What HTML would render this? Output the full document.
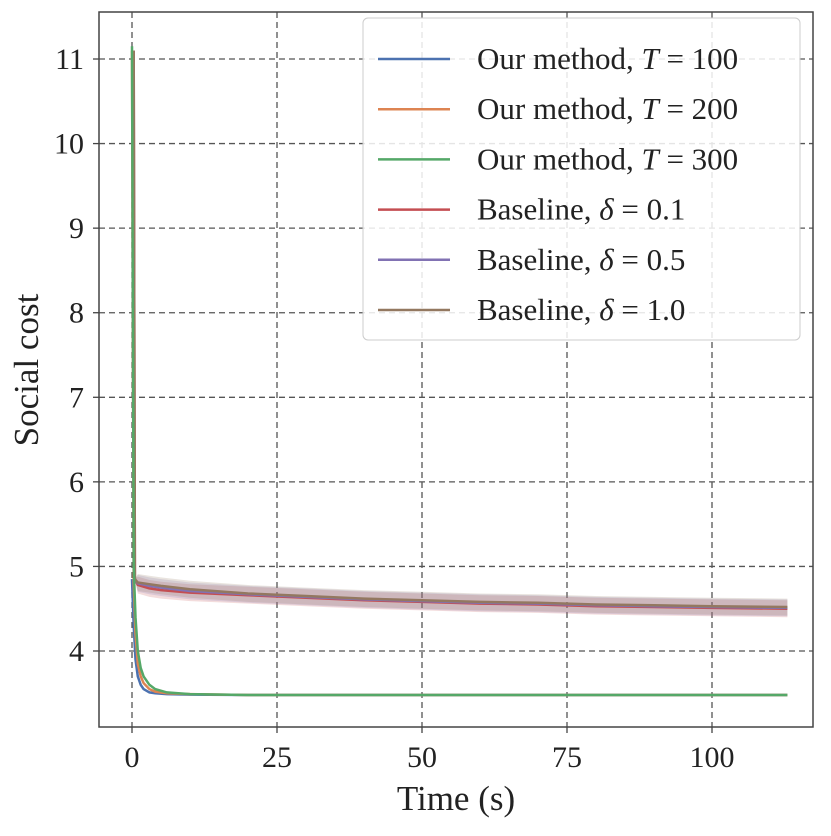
<!DOCTYPE html>
<html><head><meta charset="utf-8"><style>
body{margin:0;background:#fff}
svg text{font-family:"Liberation Serif",serif;fill:#222}
</style></head><body>
<svg id="c" width="831" height="831"></svg>
<script>
const ourTimes=[0,0.3,0.6,1,1.5,2,3,4,6,10,20,50,113];
const ourT100=[4.85,4.3,3.9,3.7,3.6,3.55,3.51,3.5,3.49,3.485,3.48,3.48,3.48];
const ourT200=[11.1,4.8,4.2,3.85,3.7,3.62,3.55,3.52,3.5,3.49,3.48,3.48,3.48];
const ourT300=[11.15,5.0,4.4,4.0,3.8,3.7,3.6,3.55,3.51,3.49,3.48,3.48,3.48];
const baseTimes=[0.3,0.5,1,3,5,10,20,30,40,50,60,70,80,90,100,113];
const baseD01=[11.1,4.85,4.78,4.74,4.72,4.69,4.66,4.63,4.6,4.58,4.56,4.55,4.53,4.52,4.51,4.5];
const baseD05=[4.85,4.85,4.8,4.77,4.75,4.71,4.67,4.64,4.61,4.59,4.57,4.56,4.54,4.53,4.52,4.51];
const baseD10=[11.1,4.85,4.81,4.79,4.77,4.73,4.68,4.65,4.62,4.6,4.58,4.57,4.55,4.54,4.53,4.52];
const bandWidth=0.1;
const xTicks=[0,25,50,75,100];
const yTicks=[4,5,6,7,8,9,10,11];
const legendPrefix=["Our method, ","Our method, ","Our method, ","Baseline, ","Baseline, ","Baseline, "];
const legendVar=["T","T","T","δ","δ","δ"];
const legendValue=["100","200","300","0.1","0.5","1.0"];
const colors=["#4c72b0","#dd8452","#55a868","#c44e52","#8172b3","#937860"];

const svg=document.getElementById('c');const NS="http://www.w3.org/2000/svg";
const L=99,R=813,T=12,B=727;
const X=t=>132+t*5.8, Y=v=>651-(v-4)*84.57;
function el(tag,a,p){const e=document.createElementNS(NS,tag);for(const k in a)e.setAttribute(k,a[k]);(p||svg).appendChild(e);return e;}
xTicks.forEach(t=>{const g=el('line',{x1:X(t),x2:X(t),y1:T,y2:B,stroke:'#555','stroke-dasharray':'6,4','stroke-width':1.3});


const tx=el('text',{x:X(t),y:767,'font-size':30,'text-anchor':'middle'});tx.textContent=t;


el('line',{x1:X(t),x2:X(t),y1:B,y2:B+6,stroke:'#444','stroke-width':1.3});});
yTicks.forEach(v=>{const g=el('line',{x1:L,x2:R,y1:Y(v),y2:Y(v),stroke:'#555','stroke-dasharray':'6,4','stroke-width':1.3});


const tx=el('text',{x:84,y:Y(v)+10,'font-size':30,'text-anchor':'end'});tx.textContent=v;


el('line',{x1:L-6,x2:L,y1:Y(v),y2:Y(v),stroke:'#444','stroke-width':1.3});});
function path(ts,vs){return ts.map((t,i)=>(i?'L':'M')+X(t).toFixed(1)+','+Y(vs[i]).toFixed(1)).join(' ');}
[baseD01,baseD05,baseD10].forEach((s,k)=>{
 const up=baseTimes.map((t,i)=>i<2?s[i]:s[i]+bandWidth), lo=baseTimes.map((t,i)=>i<2?s[i]:s[i]-bandWidth);
 const d=path(baseTimes,up)+' '+baseTimes.slice().reverse().map((t,j)=>{const i=baseTimes.length-1-j;return 'L'+X(t).toFixed(1)+','+Y(lo[i]).toFixed(1)}).join(' ')+'Z';
 const b=el('path',{d:d,fill:colors[3+k],opacity:0.2});
 
 
});
const series=[[ourTimes,ourT100],[ourTimes,ourT200],[ourTimes,ourT300],[baseTimes,baseD01],[baseTimes,baseD05],[baseTimes,baseD10]];
const order=[3,4,5,0,1,2];
order.forEach(k=>{const p=el('path',{d:path(series[k][0],series[k][1]),fill:'none',stroke:colors[k],'stroke-width':2.5});

});
el('rect',{x:L,y:T,width:R-L,height:B-T,fill:'none',stroke:'#444','stroke-width':1.5});
const lg=el('g',{});


el('rect',{x:363,y:18,width:437,height:322,rx:5,fill:'rgba(255,255,255,0.85)',stroke:'#ccc'},lg);
legendPrefix.forEach((s,i)=>{const y=59+i*50.2;
 el('line',{x1:378,x2:450,y1:y,y2:y,stroke:colors[i],'stroke-width':2.5},lg);
 const tx=el('text',{x:477,y:y+10,'font-size':31},lg);
 
 
 el('tspan',{},tx).textContent=s;
 el('tspan',{'font-style':'italic'},tx).textContent=legendVar[i];
 el('tspan',{},tx).textContent=' = '+legendValue[i];});
const xt=el('text',{x:456,y:810,'font-size':35,'text-anchor':'middle'});xt.textContent='Time (s)';


const yt=el('text',{x:0,y:0,'font-size':35,'text-anchor':'middle',transform:'translate(38,370) rotate(-90)'});yt.textContent='Social cost';


</script>
</body></html>
